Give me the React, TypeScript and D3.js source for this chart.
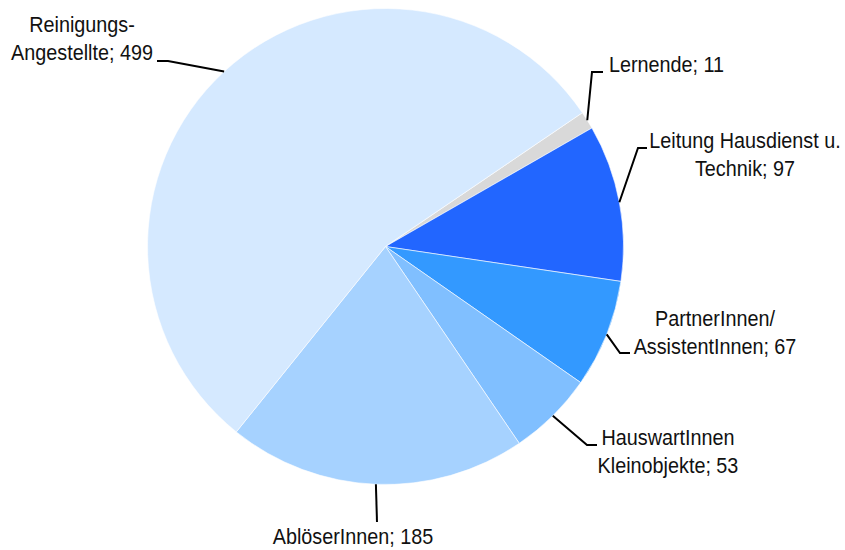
import React from "react";
import * as d3 from "d3";

// data (count of employees per group)
const categories = [
  "Lernende",
  "Leitung Hausdienst u. Technik",
  "PartnerInnen/ AssistentInnen",
  "HauswartInnen Kleinobjekte",
  "AblöserInnen",
  "Reinigungs-Angestellte",
];
const values = [11, 97, 67, 53, 185, 499];
const labelLines = [
  ["Lernende; 11"],
  ["Leitung Hausdienst u.", "Technik; 97"],
  ["PartnerInnen/", "AssistentInnen; 67"],
  ["HauswartInnen", "Kleinobjekte; 53"],
  ["AblöserInnen; 185"],
  ["Reinigungs-", "Angestellte; 499"],
];
const colors = ["#d9d9d9", "#2266ff", "#3399ff", "#80bfff", "#a6d2ff", "#d5e9ff"];

// label layout: text anchor point + elbow of the leader line
const labelLayout = [
  { x: 609, y: 72, anchor: "start", elbow: [[603, 72], [592, 72]] },
  { x: 745, y: 148, anchor: "middle", elbow: [[647, 148], [638, 148]] },
  { x: 715, y: 326, anchor: "middle", elbow: [[630, 353], [620, 353]] },
  { x: 668, y: 445, anchor: "middle", elbow: [[597, 445], [587, 445]] },
  { x: 353, y: 544, anchor: "middle", elbow: [[377, 522]] },
  { x: 82, y: 32, anchor: "middle", elbow: [[157, 61], [168, 61]] },
];

const width = 845;
const height = 550;
const cx = 385.5;
const cy = 246.5;
const radius = 238;
const startDeg = 55.8;

export default function App() {
  const pie = d3
    .pie<number>()
    .sort(null)
    .value((d) => d)
    .startAngle((startDeg * Math.PI) / 180)
    .endAngle(((startDeg + 360) * Math.PI) / 180);
  const arcs = pie(values);
  const arc = d3.arc<d3.PieArcDatum<number>>().innerRadius(0).outerRadius(radius);
  const edge = d3.arc<d3.PieArcDatum<number>>().innerRadius(radius).outerRadius(radius);
  const line = d3.line();
  const lineHeight = 28;
  const sx = 0.9;

  return (
    <svg
      width={width}
      height={height}
      style={{ position: "absolute", left: 0, top: 0, background: "#fff" }}
      fontFamily="'Liberation Sans', Arial, sans-serif"
      fontSize={22}
    >
      <g transform={`translate(${cx},${cy})`}>
        {arcs.map((a, i) => (
          <path key={categories[i]} d={arc(a) || ""} fill={colors[i]} stroke="#fff" strokeWidth={0.6} />
        ))}
      </g>
      {arcs.map((a, i) => {
        const [ex, ey] = edge.centroid(a);
        const lay = labelLayout[i];
        const pts = [...lay.elbow, [cx + ex, cy + ey]] as [number, number][];
        return (
          <path key={"l" + i} d={line(pts) || ""} fill="none" stroke="#000" strokeWidth={2} />
        );
      })}
      {labelLayout.map((lay, i) => (
        <text
          key={"t" + i}
          transform={`translate(${lay.x},${lay.y}) scale(${sx},1)`}
          textAnchor={lay.anchor}
          fill="#111"
        >
          {labelLines[i].map((t, j) => (
            <tspan key={j} x={0} y={j * lineHeight}>
              {t}
            </tspan>
          ))}
        </text>
      ))}
    </svg>
  );
}
